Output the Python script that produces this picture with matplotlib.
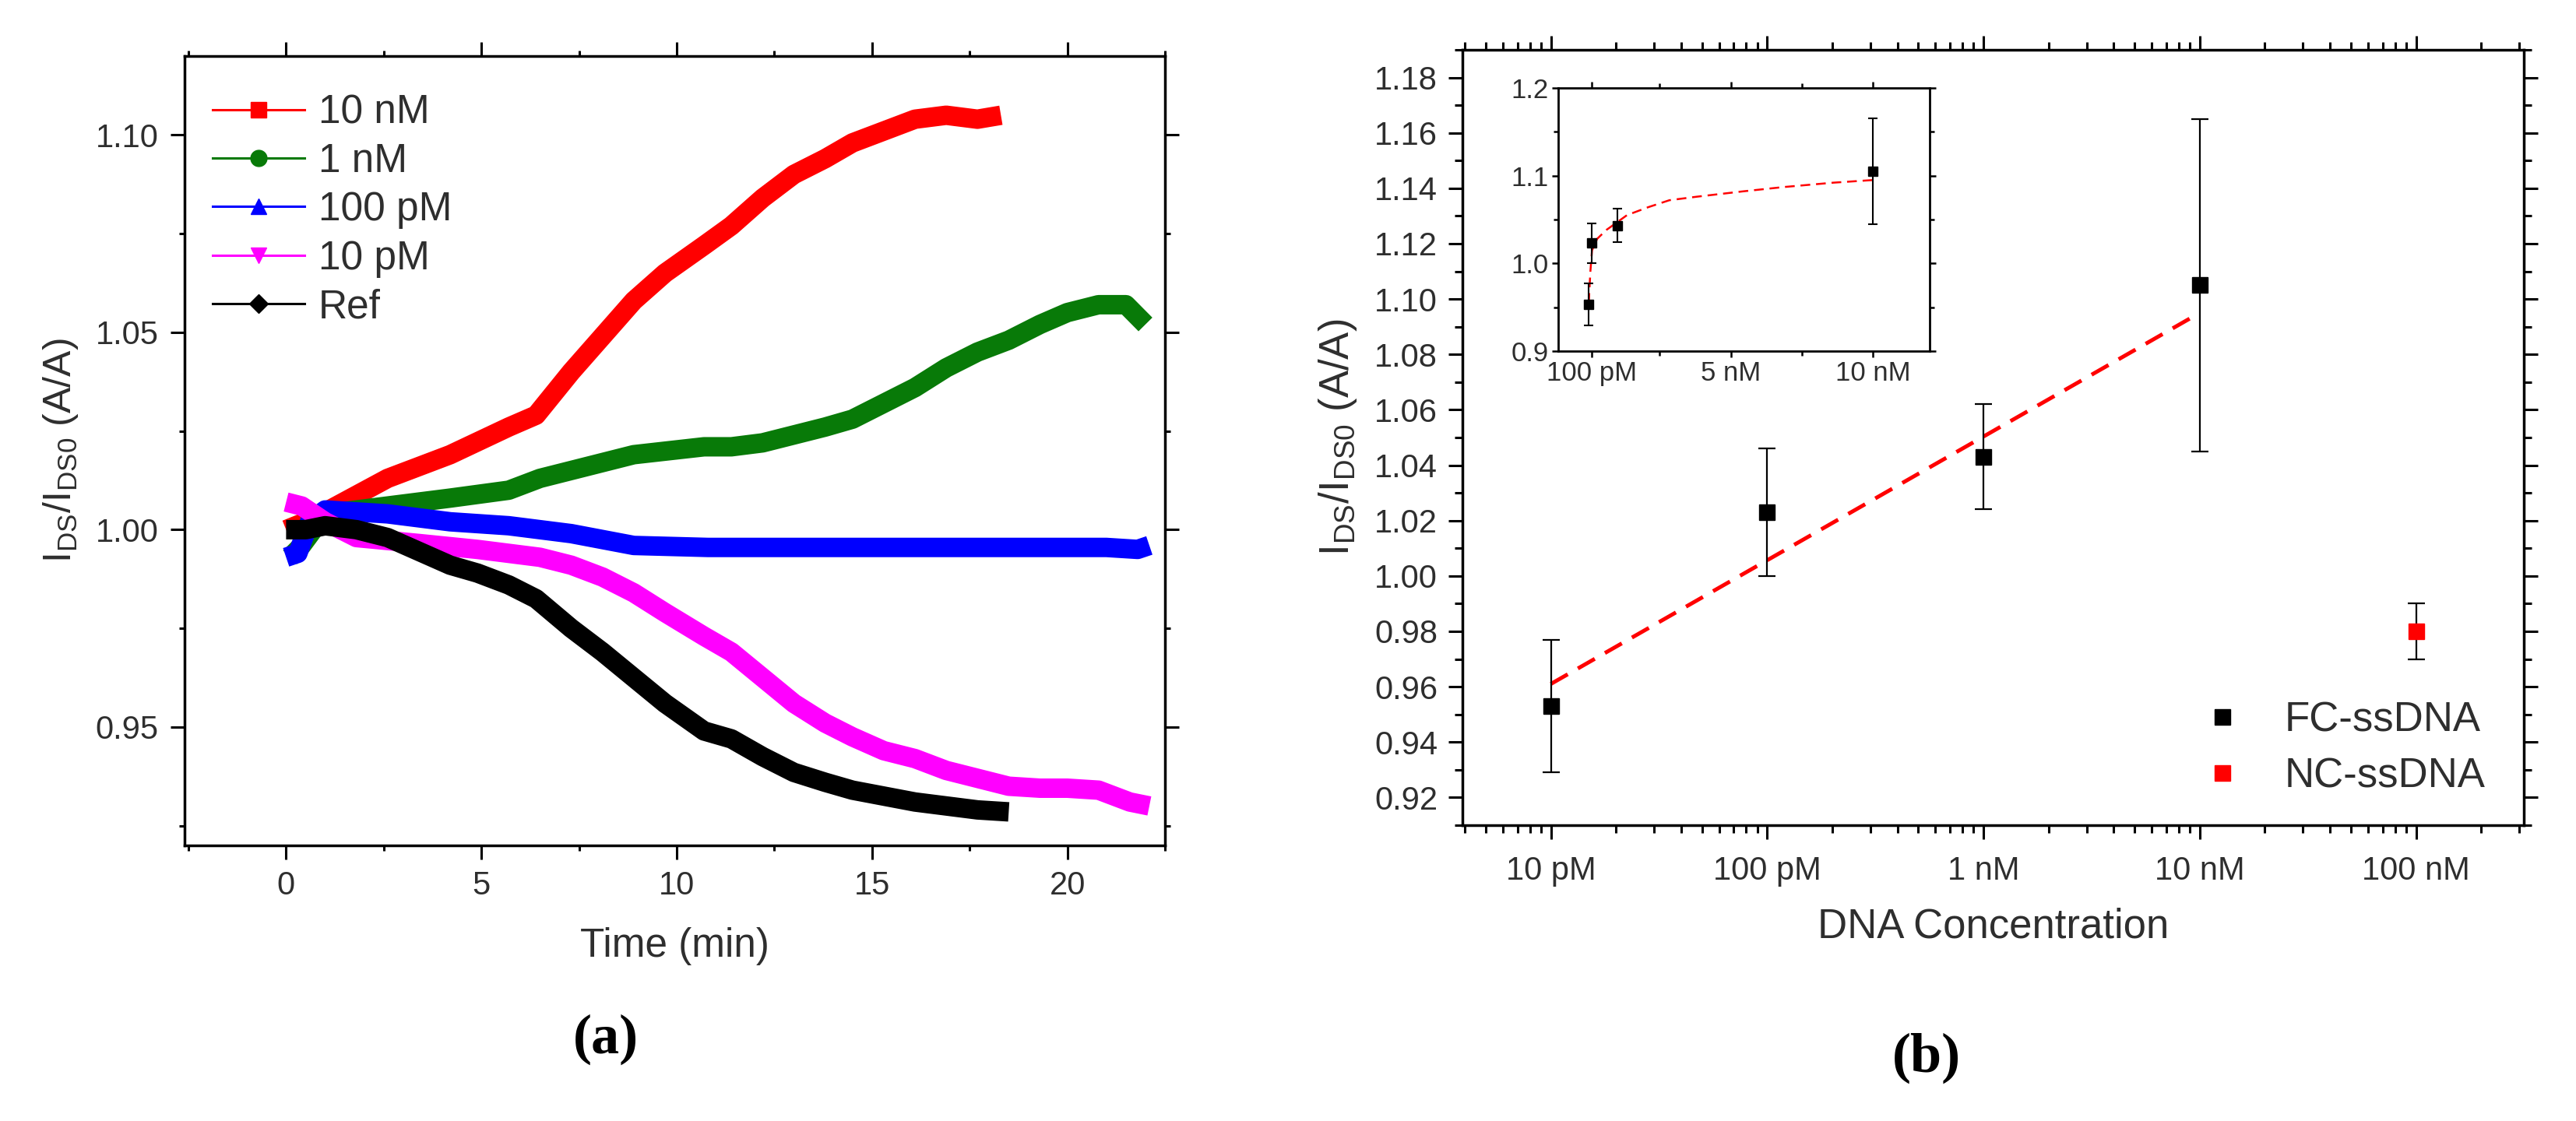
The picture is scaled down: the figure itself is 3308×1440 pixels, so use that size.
import numpy as np
import matplotlib
matplotlib.use("Agg")
import matplotlib.pyplot as plt
from matplotlib.lines import Line2D
from matplotlib.ticker import MultipleLocator, LogLocator, FixedLocator, FixedFormatter, NullFormatter

plt.rcParams['font.family'] = ['Liberation Sans', 'DejaVu Sans']
plt.rcParams['mathtext.fontset'] = 'custom'
plt.rcParams['mathtext.rm'] = 'Liberation Sans'
plt.rcParams['mathtext.it'] = 'Liberation Sans:italic'
TXT = '#2e2e2e'

# ---- panel (a): response vs time
red_t = [0.0, 0.5, 1.1, 2.6, 4.2, 5.7, 6.4, 7.3, 8.1, 8.9, 9.7, 10.7, 11.4, 12.2, 13.0, 13.8, 14.5, 15.3, 16.1, 16.9, 17.7, 18.3]
red_v = [1.000, 1.002, 1.005, 1.013, 1.019, 1.026, 1.029, 1.040, 1.049, 1.058, 1.065, 1.072, 1.077, 1.084, 1.090, 1.094, 1.098, 1.101, 1.104, 1.105, 1.104, 1.105]

green_t = [0.1, 0.4, 1.0, 2.6, 4.2, 5.7, 6.5, 7.3, 8.9, 10.7, 11.4, 12.2, 13.0, 13.8, 14.5, 15.3, 16.1, 16.9, 17.7, 18.5, 19.3, 20.0, 20.8, 21.5, 21.9, 22.0]
green_v = [0.993, 0.996, 1.004, 1.006, 1.008, 1.010, 1.013, 1.015, 1.019, 1.021, 1.021, 1.022, 1.024, 1.026, 1.028, 1.032, 1.036, 1.041, 1.045, 1.048, 1.052, 1.055, 1.057, 1.057, 1.053, 1.052]

blue_t = [0.0, 0.3, 0.6, 1.0, 2.6, 4.2, 5.7, 7.3, 8.9, 10.8, 13.0, 15.0, 17.0, 19.0, 21.0, 21.8, 22.1]
blue_v = [0.993, 0.994, 1.002, 1.005, 1.004, 1.002, 1.001, 0.999, 0.996, 0.9955, 0.9955, 0.9955, 0.9955, 0.9955, 0.9955, 0.995, 0.996]

mag_t = [0.0, 0.4, 1.0, 1.8, 3.4, 4.9, 6.5, 7.3, 8.1, 8.9, 9.7, 10.7, 11.4, 12.2, 13.0, 13.8, 14.5, 15.3, 16.1, 16.9, 17.7, 18.5, 19.3, 20.0, 20.8, 21.6, 22.1]
mag_v = [1.007, 1.006, 1.002, 0.998, 0.9965, 0.995, 0.993, 0.991, 0.988, 0.984, 0.979, 0.973, 0.969, 0.9625, 0.956, 0.951, 0.9475, 0.944, 0.942, 0.939, 0.937, 0.935, 0.9345, 0.9345, 0.934, 0.931, 0.930]

ref_t = [0.0, 0.5, 1.0, 1.8, 2.6, 3.4, 4.2, 4.9, 5.7, 6.4, 7.3, 8.1, 8.9, 9.7, 10.7, 11.4, 12.2, 13.0, 13.8, 14.5, 15.3, 16.1, 16.9, 17.7, 18.5]
ref_v = [1.000, 1.000, 1.001, 1.000, 0.998, 0.9945, 0.991, 0.989, 0.986, 0.9825, 0.975, 0.969, 0.9625, 0.956, 0.949, 0.947, 0.9425, 0.9385, 0.936, 0.934, 0.9325, 0.931, 0.930, 0.929, 0.9285]

series_labels = ['10 nM', '1 nM', '100 pM', '10 pM', 'Ref']
series_colors = ['#ff0000', '#087a08', '#0000ff', '#ff00ff', '#000000']
series_markers = ['s', 'o', '^', 'v', 'D']

# ---- panel (b): response vs concentration
fc_conc = [1e-11, 1e-10, 1e-9, 1e-8]
fc_conc_nM = [0.01, 0.1, 1.0, 10.0]
fc_y = [0.953, 1.023, 1.043, 1.105]
fc_err = [0.024, 0.023, 0.019, 0.060]
nc_conc = [1e-7]
nc_y = [0.980]
nc_err = [0.010]
fit_conc = [1e-11, 1e-8]
fit_y = [0.961, 1.095]
conc_ticks = [1e-11, 1e-10, 1e-9, 1e-8, 1e-7]
conc_labels = ['10 pM', '100 pM', '1 nM', '10 nM', '100 nM']

inset_fit_x = [0.01, 0.02, 0.06, 0.12, 0.3, 0.62, 1.35, 2.09, 2.84, 3.8, 5.4, 6.85, 8.6, 10.0]
inset_fit_y = [0.955, 0.965, 0.99, 1.015, 1.028, 1.038, 1.055, 1.064, 1.072, 1.076, 1.082, 1.087, 1.092, 1.095]
inset_ticks = [0.1, 5, 10]
inset_labels = ['100 pM', '5 nM', '10 nM']

fig = plt.figure(figsize=(33.08, 14.4), dpi=100)

# ================= (a)
ax = fig.add_axes([0.07164, 0.24583, 0.3806, 0.70417])
data_a = [(red_t, red_v), (green_t, green_v), (blue_t, blue_v), (mag_t, mag_v), (ref_t, ref_v)]
for (t, v), c in zip(data_a, series_colors):
    ax.plot(t, v, color=c, lw=18, solid_joinstyle='round', solid_capstyle='butt')

ax.set_xlim(-2.6, 22.5)
ax.set_ylim(0.920, 1.120)
ax.xaxis.set_major_locator(MultipleLocator(5))
ax.xaxis.set_minor_locator(MultipleLocator(2.5))
ax.yaxis.set_major_locator(FixedLocator([0.95, 1.00, 1.05, 1.10]))
ax.yaxis.set_major_formatter(FixedFormatter(['0.95', '1.00', '1.05', '1.10']))
ax.yaxis.set_minor_locator(MultipleLocator(0.025))
ax.tick_params(which='both', direction='out', top=True, right=True, width=2.2,
               labelsize=30, labelcolor=TXT)
ax.tick_params(axis='x', pad=10)
ax.tick_params(axis='y', pad=11)
ax.tick_params(which='major', length=13)
ax.tick_params(which='minor', length=5)
for s in ax.spines.values():
    s.set_linewidth(2.5)
ax.set_xlabel('Time (min)', fontsize=37, color=TXT, labelpad=24)
ax.set_ylabel(r'I$_{\mathrm{DS}}$/I$_{\mathrm{DS0}}$ (A/A)', fontsize=36, color=TXT, labelpad=14)

handles = [Line2D([], [], color=c, marker=m, ms=15 if m != 'D' else 12, lw=2.2)
           for c, m in zip(series_colors, series_markers)]
ax.legend(handles, series_labels, loc='upper left', bbox_to_anchor=(0.0286, 0.952),
          frameon=False, fontsize=37, borderpad=0, borderaxespad=0,
          handlelength=2.3, handletextpad=0.35, labelspacing=0.26, labelcolor=TXT)

# ================= (b)
bx = fig.add_axes([0.5677, 0.26389, 0.41203, 0.69167])
bx.set_xscale('log')
bx.plot(fit_conc, fit_y, color='#ff0000', lw=3.6, ls=(0, (5, 3)), zorder=2)
bx.errorbar(fc_conc, fc_y, yerr=fc_err, fmt='s', color='black', ms=15,
            ecolor='black', elinewidth=1.6, capsize=8, capthick=1.6, zorder=3)
bx.errorbar(nc_conc, nc_y, yerr=nc_err, fmt='s', color='#ff0000', ms=15,
            ecolor='black', elinewidth=1.6, capsize=8, capthick=1.6, zorder=3)
bx.set_xlim(3.9e-12, 3.15e-7)
bx.set_ylim(0.91, 1.19)
bx.xaxis.set_major_locator(FixedLocator(conc_ticks))
bx.xaxis.set_major_formatter(FixedFormatter(conc_labels))
bx.xaxis.set_minor_locator(LogLocator(base=10, subs=np.arange(2, 10), numticks=20))
bx.xaxis.set_minor_formatter(NullFormatter())
bx.yaxis.set_major_locator(MultipleLocator(0.02))
bx.yaxis.set_minor_locator(MultipleLocator(0.01))
bx.yaxis.set_major_formatter(matplotlib.ticker.FormatStrFormatter('%.2f'))
bx.tick_params(which='both', direction='out', top=True, right=True, width=2.2,
               labelsize=30, labelcolor=TXT)
bx.tick_params(axis='x', pad=15)
bx.tick_params(axis='y', pad=10)
bx.tick_params(which='major', length=13)
bx.tick_params(which='minor', length=7)
for s in bx.spines.values():
    s.set_linewidth(2.5)
bx.set_xlabel('DNA Concentration', fontsize=38, color=TXT, labelpad=19)
bx.set_ylabel(r'I$_{\mathrm{DS}}$/I$_{\mathrm{DS0}}$ (A/A)', fontsize=38, color=TXT, labelpad=14)

leg_h = [Line2D([], [], color='black', marker='s', ls='none', ms=15),
         Line2D([], [], color='#ff0000', marker='s', ls='none', ms=15)]
bx.legend(leg_h, ['FC-ssDNA', 'NC-ssDNA'], loc='upper left', bbox_to_anchor=(0.697, 0.160),
          frameon=False, fontsize=38, borderpad=0, borderaxespad=0,
          handlelength=1.0, handletextpad=1.0, labelspacing=0.42, labelcolor=TXT)

# ================= inset
ix = fig.add_axes([0.6049, 0.68681, 0.1442, 0.23472])
ix.plot(inset_fit_x, inset_fit_y, color='#ff0000', lw=1.8, ls=(0, (5, 3)), zorder=2)
ix.errorbar(fc_conc_nM, fc_y, yerr=fc_err, fmt='s', color='black', ms=8,
            ecolor='black', elinewidth=1.5, capsize=4, capthick=1.5, zorder=3)
ix.set_xlim(-1.07, 12.0)
ix.set_ylim(0.9, 1.2)
ix.xaxis.set_major_locator(FixedLocator(inset_ticks))
ix.xaxis.set_major_formatter(FixedFormatter(inset_labels))
ix.xaxis.set_minor_locator(FixedLocator([2.5, 7.5]))
ix.yaxis.set_major_locator(MultipleLocator(0.1))
ix.yaxis.set_minor_locator(MultipleLocator(0.05))
ix.yaxis.set_major_formatter(matplotlib.ticker.FormatStrFormatter('%.1f'))
ix.tick_params(which='both', direction='out', top=True, right=True, width=1.8,
               labelsize=25, labelcolor=TXT, pad=3)
ix.tick_params(which='major', length=6)
ix.tick_params(which='minor', length=4)
for s in ix.spines.values():
    s.set_linewidth(2.0)

# panel letters
fig.text(778 / 3308, 1 - 1335 / 1440, '(a)', ha='center', va='center', fontsize=52,
         fontweight='bold', family=['Liberation Serif', 'DejaVu Serif'])
fig.text(2474 / 3308, 1 - 1359 / 1440, '(b)', ha='center', va='center', fontsize=52,
         fontweight='bold', family=['Liberation Serif', 'DejaVu Serif'])

fig.savefig('out.png', dpi=100)
